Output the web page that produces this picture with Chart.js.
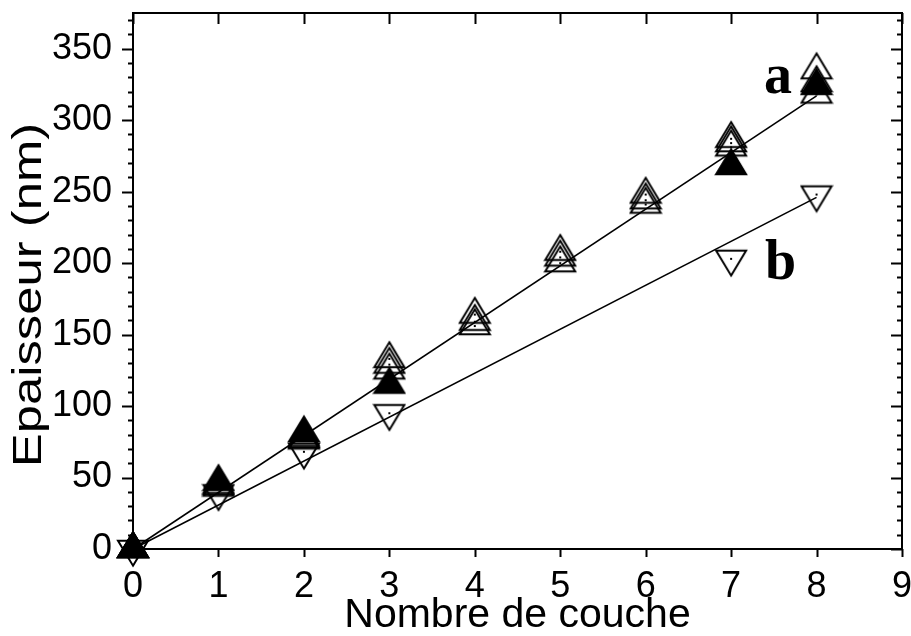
<!DOCTYPE html>
<html>
<head>
<meta charset="utf-8">
<script src="https://cdn.jsdelivr.net/npm/chart.js@4.4.1/dist/chart.umd.min.js"></script>
<style>
  html, body { margin: 0; padding: 0; background: #fff; }
</style>
</head>
<body>
<canvas id="epaisseurChart" width="911" height="636"></canvas>
<script>
        // données
        const couches = [0, 1, 2, 3, 4, 5, 6, 7, 8];
        const serieA1 = [0, 45, 78, 133, 164, 208, 248, 287, 335];
        const serieA2 = [0, 44, 77, 129, 159, 204, 244, 284, 326];
        const serieA3 = [0, 43, 76, 125, 156, 200, 241, 281, 318];
        const couchesPartiel = [0, 1, 2, 3, 7, 8];
        const serieAPlein = [0, 47, 81, 115, 268, 324];
        const serieB = [0, 39, 68, 95, 203, 248];
        const ajusteX = [0, 8];
        const ajusteA = [0, 317];
        const ajusteB = [0, 246];
        const ticksX = [0, 1, 2, 3, 4, 5, 6, 7, 8, 9];
        const ticksY = [0, 50, 100, 150, 200, 250, 300, 350];

        const police = '"Liberation Sans", Arial, sans-serif';
        const titreY = 'Epaisseur (nm)';

        function symbole(haut, plein) {
            const w = 30, h = 25;
            const c = document.createElement('canvas');
            c.width = w + 4;
            c.height = Math.ceil(4 * h / 3) + 4;
            const g = c.getContext('2d');
            const cx = c.width / 2, cy = c.height / 2;
            g.beginPath();
            if (haut) {
                g.moveTo(cx, cy - 2 * h / 3);
                g.lineTo(cx + w / 2, cy + h / 3);
                g.lineTo(cx - w / 2, cy + h / 3);
            } else {
                g.moveTo(cx, cy + 2 * h / 3);
                g.lineTo(cx + w / 2, cy - h / 3);
                g.lineTo(cx - w / 2, cy - h / 3);
            }
            g.closePath();
            g.lineWidth = 2;
            g.strokeStyle = '#000';
            if (plein) {
                g.fillStyle = '#000';
                g.fill();
            }
            g.stroke();
            if (!plein) {
                g.fillStyle = '#000';
                g.fillRect(cx - 1, cy - 1, 2, 2);
            }
            return c;
        }

        const triOuvert = symbole(true, false);
        const triPlein = symbole(true, true);
        const triBas = symbole(false, false);

        function points(xs, ys) {
            return xs.map((v, i) => ({ x: v, y: ys[i] }));
        }

        function serieSymbole(xs, ys, style, ordre) {
            return {
                data: points(xs, ys),
                showLine: false,
                pointStyle: style,
                pointRadius: 15,
                order: ordre,
                clip: false
            };
        }

        function serieLigne(ys) {
            return {
                data: points(ajusteX, ys),
                showLine: true,
                borderColor: '#000',
                borderWidth: 1.6,
                pointRadius: 0,
                order: 5,
                clip: false
            };
        }

        const etiquettes = [
            { texte: 'a', x: 7.55, y: 331 },
            { texte: 'b', x: 7.58, y: 201 }
        ];

        function sansMarge(scale) {
            scale.paddingTop = 0;
            scale.paddingBottom = 0;
            scale.paddingLeft = 0;
            scale.paddingRight = 0;
        }

        const cadre = {
            id: 'cadre',
            afterDatasetsDraw(chart) {
                const { ctx, chartArea: ca, scales: { x, y } } = chart;
                ctx.save();
                ctx.strokeStyle = '#000';
                ctx.lineWidth = 2;
                ctx.strokeRect(ca.left, ca.top, ca.right - ca.left, ca.bottom - ca.top);
                ctx.beginPath();
                for (let v = 0; v <= y.max; v += 10) {
                    const py = Math.round(y.getPixelForValue(v)) + 0.5;
                    const long = v % 50 === 0 ? 11 : 5;
                    ctx.moveTo(ca.left - long, py);
                    ctx.lineTo(ca.left, py);
                    ctx.moveTo(ca.right, py);
                    ctx.lineTo(ca.right - long, py);
                }
                ticksX.forEach(v => {
                    const px = Math.round(x.getPixelForValue(v)) + 0.5;
                    ctx.moveTo(px, ca.bottom);
                    ctx.lineTo(px, ca.bottom + 8);
                    ctx.moveTo(px, ca.top);
                    ctx.lineTo(px, ca.top + 11);
                });
                ctx.stroke();

                ctx.fillStyle = '#000';
                ctx.font = 'bold 56px "Liberation Serif", "Times New Roman", serif';
                ctx.textAlign = 'center';
                ctx.textBaseline = 'alphabetic';
                etiquettes.forEach(e => {
                    const px = x.getPixelForValue(e.x);
                    const py = y.getPixelForValue(e.y);
                    ctx.fillText(e.texte, px, py + 17);
                });

                // titre de l'axe des ordonnées, étiré dans le sens du texte
                ctx.save();
                ctx.translate(30, (ca.top + ca.bottom) / 2 + 14);
                ctx.rotate(-Math.PI / 2);
                ctx.scale(1.27, 1);
                ctx.font = '40px ' + police;
                ctx.textAlign = 'center';
                ctx.textBaseline = 'middle';
                ctx.fillText(titreY, 0, 0);
                ctx.restore();
                ctx.restore();
            }
        };

        new Chart(document.getElementById('epaisseurChart'), {
            type: 'scatter',
            data: {
                datasets: [
                    serieLigne(ajusteA),
                    serieLigne(ajusteB),
                    serieSymbole(couches, serieA1, triOuvert, 4),
                    serieSymbole(couches, serieA2, triOuvert, 4),
                    serieSymbole(couches, serieA3, triOuvert, 4),
                    serieSymbole(couchesPartiel, serieAPlein, triPlein, 3),
                    serieSymbole(couchesPartiel, serieB, triBas, 2)
                ]
            },
            options: {
                responsive: false,
                animation: false,
                devicePixelRatio: 1,
                layout: {
                    autoPadding: false,
                    padding: { top: 13, right: 9, left: 0, bottom: 0 }
                },
                plugins: {
                    legend: { display: false },
                    tooltip: { enabled: false }
                },
                scales: {
                    x: {
                        type: 'linear',
                        min: 0,
                        max: 9,
                        afterFit(scale) { scale.height = 87; sansMarge(scale); },
                        afterBuildTicks(scale) {
                            scale.ticks = ticksX.map(v => ({ value: v }));
                        },
                        grid: { display: false },
                        border: { display: false },
                        ticks: {
                            color: '#000',
                            padding: 8,
                            maxRotation: 0,
                            font: { family: police, size: 36 }
                        },
                        title: {
                            display: true,
                            text: 'Nombre de couche',
                            color: '#000',
                            padding: { top: 0, bottom: 0 },
                            font: { family: police, size: 41, lineHeight: 1 }
                        }
                    },
                    y: {
                        type: 'linear',
                        min: 0,
                        max: 375,
                        afterFit(scale) { scale.width = 133; sansMarge(scale); },
                        afterBuildTicks(scale) {
                            scale.ticks = ticksY.map(v => ({ value: v }));
                        },
                        grid: { display: false, drawTicks: false },
                        border: { display: false },
                        ticks: {
                            color: '#000',
                            padding: 21,
                            font: { family: police, size: 36 }
                        }
                    }
                }
            },
            plugins: [cadre]
        });
</script>
</body>
</html>
